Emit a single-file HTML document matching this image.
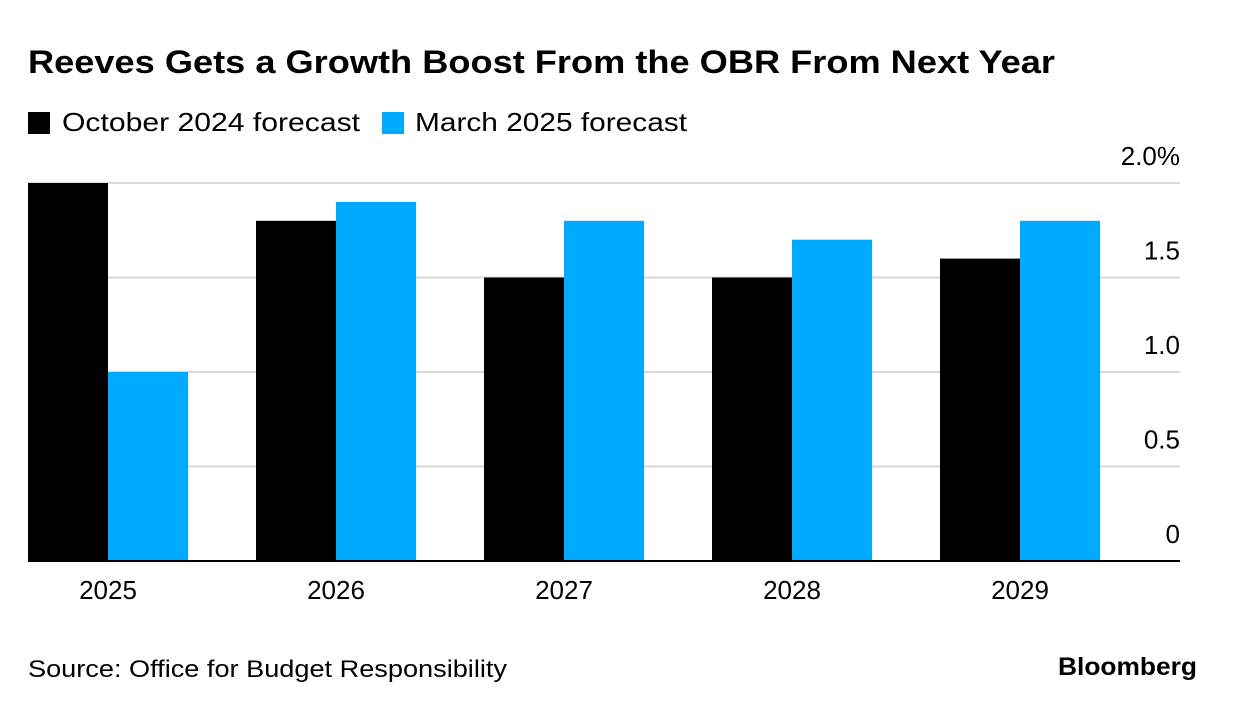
<!DOCTYPE html>
<html><head><meta charset="utf-8"><style>
body{margin:0;background:#fff;width:1236px;height:710px;overflow:hidden;font-family:"Liberation Sans",sans-serif;}
</style></head><body>
<svg width="1236" height="710" xmlns="http://www.w3.org/2000/svg">
<text x="28" y="73" font-size="32" font-weight="bold" fill="#000" textLength="1027" lengthAdjust="spacingAndGlyphs">Reeves Gets a Growth Boost From the OBR From Next Year</text>
<rect x="28" y="112" width="22" height="22" fill="#000"/>
<text x="62" y="131" font-size="26" fill="#000" textLength="298" lengthAdjust="spacingAndGlyphs">October 2024 forecast</text>
<rect x="382" y="112" width="22" height="22" fill="#00aaff"/>
<text x="415" y="131" font-size="26" fill="#000" textLength="272" lengthAdjust="spacingAndGlyphs">March 2025 forecast</text>
<g id="plot"></g>
<text x="28" y="677" font-size="24" fill="#000" textLength="479" lengthAdjust="spacingAndGlyphs">Source: Office for Budget Responsibility</text>
<text x="1058" y="675" font-size="25" font-weight="bold" fill="#000" textLength="139" lengthAdjust="spacingAndGlyphs">Bloomberg</text>
</svg>
<script>
const categories=["2025","2026","2027","2028","2029"];
const october=[2.0,1.8,1.5,1.5,1.6];
const march=[1.0,1.9,1.8,1.7,1.8];
const ticks=[0,0.5,1.0,1.5,2.0];
const tickLabels=["0","0.5","1.0","1.5","2.0%"];
const NS="http://www.w3.org/2000/svg";
const g=document.getElementById("plot");
const y0=561,y1=183,vmax=2.0;
const y=v=>y0-(v/vmax)*(y0-y1);
const gx=i=>28+228*i;
function mk(t,a){const e=document.createElementNS(NS,t);for(const k in a)e.setAttribute(k,a[k]);g.appendChild(e);return e;}
ticks.forEach((t,i)=>{
  if(t>0){const l=mk("line",{x1:28,x2:1180,y1:y(t),y2:y(t),stroke:"#d9d9d9","stroke-width":2});
  
  }
  const tx=mk("text",{x:1180,y:y(t)-18,"font-size":26,"text-anchor":"end",fill:"#000"});
  tx.textContent=tickLabels[i];
  
  
});
categories.forEach((c,i)=>{
  const b1=mk("rect",{x:gx(i),y:y(october[i]),width:80,height:y0-y(october[i]),fill:"#000"});
  
  
  const b2=mk("rect",{x:gx(i)+80,y:y(march[i]),width:80,height:y0-y(march[i]),fill:"#00aaff"});
  
  
  const t=mk("text",{x:gx(i)+80,y:599,"font-size":26,"text-anchor":"middle",fill:"#000"});
  t.textContent=c;
  
  
});
const ax=mk("line",{x1:28,x2:1180,y1:y0,y2:y0,stroke:"#000","stroke-width":2});


</script>
</body></html>
